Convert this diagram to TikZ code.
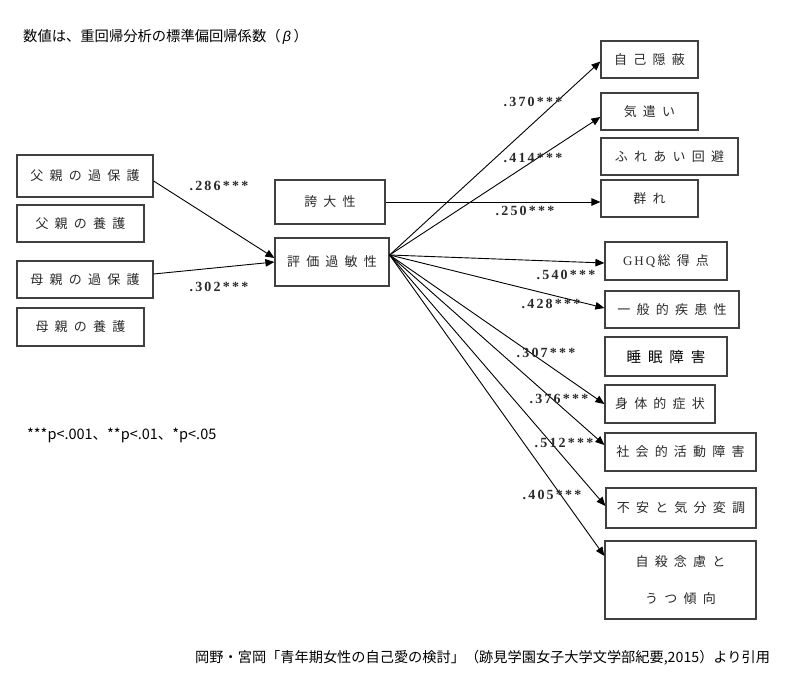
\documentclass[tikz,border=0pt]{standalone}
\usepackage{fontspec}
\usetikzlibrary{arrows.meta,calc}
\setmainfont{Liberation Serif}
\newfontfamily\jpfont{Noto Sans CJK JP}
\newfontfamily\boxjp[LetterSpace=48]{Noto Sans CJK JP}
\newfontfamily\numfont[LetterSpace=16]{Liberation Serif}
\newfontfamily\grkfont{Liberation Sans}
\definecolor{boxtext}{HTML}{2A2A2A}
\definecolor{boxline}{HTML}{404040}
\tikzset{
  bx/.style={draw=boxline, line width=1.2pt, inner sep=0pt, align=center,
    font=\boxjp\fontsize{13}{15}\selectfont, text=boxtext},
  coef/.style={inner sep=0pt, font=\numfont\bfseries\fontsize{14}{16}\selectfont, text=boxtext},
  arr/.style={draw=black, line width=0.9pt, -{Triangle[length=9pt,width=7.5pt]}},
}
\begin{document}
\begin{tikzpicture}[x=1pt,y=-1pt]
\useasboundingbox (0,0) rectangle (800,679);
% left boxes
\node[bx, minimum width=136pt, minimum height=42pt] (faover) at (85,176) {父親の過保護};
\node[bx, minimum width=127pt, minimum height=37pt] (facare) at (80.5,223.5) {父親の養護};
\node[bx, minimum width=136pt, minimum height=37pt] (moover) at (85,279.5) {母親の過保護};
\node[bx, minimum width=127pt, minimum height=38pt] (mocare) at (80.5,327) {母親の養護};
% middle
\node[bx, minimum width=110pt, minimum height=44pt] (kodai) at (330,202) {誇大性};
\node[bx, minimum width=114pt, minimum height=48pt] (eval) at (332,262) {評価過敏性};
% right
\node[bx, minimum width=97pt, minimum height=37pt] (jiko) at (649.5,59.5) {自己隠蔽};
\node[bx, minimum width=97pt, minimum height=37pt] (kizu) at (649.5,111.5) {気遣い};
\node[bx, minimum width=137pt, minimum height=37pt] (fure) at (669.5,156.5) {ふれあい回避};
\node[bx, minimum width=97pt, minimum height=37pt] (mure) at (649.5,198.5) {群れ};
\node[bx, minimum width=122pt, minimum height=38pt] (ghq) at (666,261) {{\numfont\fontsize{13}{15}\selectfont GHQ}\,総得点};
\node[bx, minimum width=134pt, minimum height=37pt] (ippan) at (672,309.5) {一般的疾患性};
\node[bx, minimum width=122pt, minimum height=39pt, font=\boxjp\fontsize{14.5}{16}\selectfont, text=black] (suimin) at (666,356.5) {睡眠障害};
\node[bx, minimum width=110pt, minimum height=38pt] (shintai) at (660,404) {身体的症状};
\node[bx, minimum width=151pt, minimum height=38pt] (shakai) at (680.5,452) {社会的活動障害};
\node[bx, minimum width=150pt, minimum height=40pt] (fuan) at (681,508) {不安と気分変調};
\node[bx, minimum width=151pt, minimum height=78pt, font=\boxjp\fontsize{13}{37}\selectfont] (jisatsu) at (680.5,580) {自殺念慮と\\うつ傾向};
% arrows
\draw[arr] ([yshift=-5pt]faover.east) -- ([yshift=4pt]eval.west);
\draw[arr] ([yshift=5.5pt]moover.east) -- (eval.west);
\coordinate (src) at ([yshift=7pt]eval.east);
\draw[arr] (src) -- ([yshift=-2pt]jiko.west);
\draw[arr] (src) -- ([yshift=-5.5pt]kizu.west);
\draw[arr] (kodai.east) -- (kodai.east -| mure.west);
\draw[arr] (src) -- ([yshift=-2pt]ghq.west);
\draw[arr] (src) -- ([yshift=1.5pt]ippan.west);
\draw[arr] (src) -- (shintai.west);
\draw[arr] (src) -- ([yshift=7pt]shakai.west);
\draw[arr] (src) -- ([yshift=2pt]fuan.west);
\draw[arr] (src) -- ([yshift=24pt]jisatsu.west);
% coefficients
\node[coef] (l286) at (219,186) {.286***};
\node[coef] (l302) at (219,287) {.302***};
\node[coef] (l370) at (533,102) {.370***};
\node[coef] (l414) at (533,158) {.414***};
\node[coef] (l250) at (525,211) {.250***};
\node[coef] (l540) at (566,275) {.540***};
\node[coef] (l428) at (551,304) {.428***};
\node[coef] (l307) at (546,353) {.307***};
\node[coef] (l376) at (559,399) {.376***};
\node[coef] (l512) at (564,443) {.512***};
\node[coef] (l405) at (552,495) {.405***};
% texts
\node[anchor=west, inner sep=0pt, font=\jpfont\fontsize{14.3}{16}\selectfont] (title) at (23,37) {数値は、重回帰分析の標準偏回帰係数（\,{\grkfont\itshape β}\,）};
\node[anchor=west, inner sep=0pt, font=\jpfont\fontsize{14.5}{16}\selectfont] (pval) at (27,435) {***p<.001、**p<.01、*p<.05};
\node[anchor=west, inner sep=0pt, font=\jpfont\fontsize{14.2}{16}\selectfont] (cite) at (195,658) {岡野・宮岡「青年期女性の自己愛の検討」（跡見学園女子大学文学部紀要,2015）より引用};
\end{tikzpicture}
\end{document}
